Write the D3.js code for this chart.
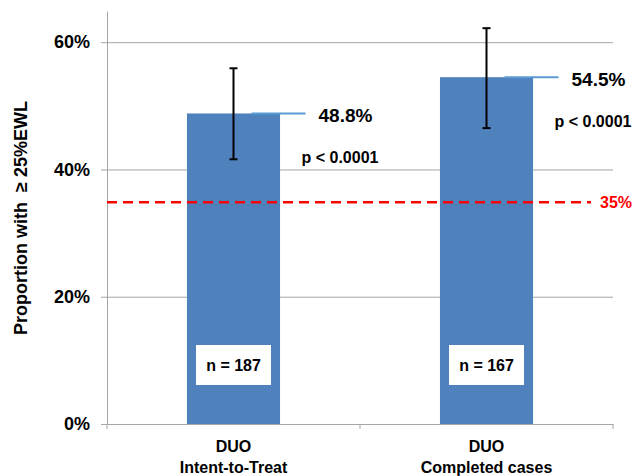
<!DOCTYPE html>
<html>
<head>
<meta charset="utf-8">
<script src="https://cdn.jsdelivr.net/npm/d3@7"></script>
<style>
  body { margin: 0; background: #fff; }
  svg text { font-family: "Liberation Sans", Arial, sans-serif; font-weight: bold; }
</style>
</head>
<body>
<div id="chart"></div>
<script>
// chart values
const groups = ['Intent-to-Treat', 'Completed cases'];
const groupTop = ['DUO', 'DUO'];
const values = [48.8, 54.5];
const errLow = [41.6, 46.5];
const errHigh = [55.9, 62.2];
const pLabels = ['p < 0.0001', 'p < 0.0001'];
const nLabels = ['n = 187', 'n = 167'];
const yTicks = [0, 20, 40, 60];
const threshold = 35;

const width = 641, height = 476;
const margin = { top: 11, right: 28, bottom: 52, left: 107 };

const svg = d3.select('#chart')
  .append('svg')
  .attr('width', width)
  .attr('height', height);

const xScale = d3.scaleBand()
  .domain(groups)
  .range([margin.left, width - margin.right])
  .paddingInner(0.632)
  .paddingOuter(0.316);

const yScale = d3.scaleLinear()
  .domain([0, 64.9])
  .range([height - margin.bottom, margin.top]);

const cx = d => xScale(d) + xScale.bandwidth() / 2;

// gridlines
svg.append('g')
  .attr('transform', `translate(${margin.left}, 0)`)
  .call(d3.axisLeft(yScale).tickValues(yTicks.slice(1)).tickFormat('').tickSize(-(width - margin.right - margin.left)))
  .call(g => g.select('.domain').remove())
  .call(g => g.selectAll('line').attr('stroke', '#a6a6a6'));

// y axis
svg.append('g')
  .attr('transform', `translate(${margin.left}, 0)`)
  .call(d3.axisLeft(yScale).tickValues(yTicks).tickFormat(d => d + '%').tickSize(6).tickSizeOuter(0))
  .call(g => g.select('.domain').attr('stroke', '#a6a6a6'))
  .call(g => g.selectAll('line').attr('stroke', '#a6a6a6'))
  .call(g => g.selectAll('text').attr('x', -17).attr('font-size', 18).attr('fill', '#000'));

// bars
svg.append('g').selectAll('rect')
  .data(groups)
  .join('rect')
  .attr('x', d => xScale(d))
  .attr('y', (d, i) => yScale(values[i]))
  .attr('width', xScale.bandwidth())
  .attr('height', (d, i) => yScale(0) - yScale(values[i]))
  .attr('fill', '#4f81bd');

// leader lines from bar top
svg.append('g').selectAll('line')
  .data(groups)
  .join('line')
  .attr('x1', d => cx(d) + 18)
  .attr('x2', d => cx(d) + 72)
  .attr('y1', (d, i) => yScale(values[i]))
  .attr('y2', (d, i) => yScale(values[i]))
  .attr('stroke', '#5b9bd5')
  .attr('stroke-width', 2);

// x axis
svg.append('g')
  .attr('transform', `translate(0, ${yScale(0)})`)
  .call(d3.axisBottom(xScale).tickSize(0).tickFormat(''))
  .call(g => g.select('.domain').attr('stroke', '#a6a6a6'));

const xTicks = [margin.left, (margin.left + width - margin.right) / 2, width - margin.right];
svg.append('g').selectAll('line')
  .data(xTicks)
  .join('line')
  .attr('x1', d => d).attr('x2', d => d)
  .attr('y1', yScale(0)).attr('y2', yScale(0) + 5)
  .attr('stroke', '#a6a6a6');

// threshold line
svg.append('line')
  .attr('x1', margin.left)
  .attr('x2', 591)
  .attr('y1', yScale(threshold) + 1)
  .attr('y2', yScale(threshold) + 1)
  .attr('stroke', '#ff0000')
  .attr('stroke-width', 2.5)
  .attr('stroke-dasharray', '10,6');

svg.append('text')
  .attr('x', 600)
  .attr('y', yScale(threshold) + 7)
  .attr('font-size', 16)
  .attr('fill', '#ff0000')
  .text(threshold + '%');

// error bars
const err = svg.append('g').attr('stroke', '#000').attr('stroke-width', 2);
groups.forEach((g, i) => {
  const x = cx(g);
  err.append('line').attr('x1', x).attr('x2', x)
    .attr('y1', yScale(errHigh[i])).attr('y2', yScale(errLow[i]));
  [errHigh[i], errLow[i]].forEach(v => {
    err.append('line').attr('x1', x - 4).attr('x2', x + 4)
      .attr('y1', yScale(v)).attr('y2', yScale(v));
  });
});

// value labels
svg.append('g').selectAll('text')
  .data(groups)
  .join('text')
  .attr('x', d => cx(d) + 85)
  .attr('y', (d, i) => yScale(values[i]) + 9)
  .attr('font-size', 19)
  .text((d, i) => values[i].toFixed(1) + '%');

svg.append('g').selectAll('text')
  .data(groups)
  .join('text')
  .attr('x', d => cx(d) + 68)
  .attr('y', (d, i) => yScale(values[i]) + 50)
  .attr('font-size', 16)
  .text((d, i) => pLabels[i]);

// n boxes
const nBox = svg.append('g').selectAll('g')
  .data(groups)
  .join('g')
  .attr('transform', d => `translate(${cx(d)}, ${yScale(0) - 59})`);

nBox.append('rect')
  .attr('x', -37.5).attr('y', -20)
  .attr('width', 75).attr('height', 40)
  .attr('fill', '#fff');

nBox.append('text')
  .attr('text-anchor', 'middle')
  .attr('dy', '0.35em')
  .attr('font-size', 16)
  .text((d, i) => nLabels[i]);

// category labels
const cat = svg.append('g').selectAll('g')
  .data(groups)
  .join('g')
  .attr('transform', d => `translate(${cx(d)}, 0)`);

cat.append('text')
  .attr('text-anchor', 'middle')
  .attr('y', 452)
  .attr('font-size', 16)
  .text((d, i) => groupTop[i]);

cat.append('text')
  .attr('text-anchor', 'middle')
  .attr('y', 473)
  .attr('font-size', 16)
  .text(d => d);

// y axis title
svg.append('text')
  .attr('transform', `translate(27, 218) rotate(-90)`)
  .attr('text-anchor', 'middle')
  .attr('font-size', 18)
  .style('white-space', 'pre')
  .text('Proportion with  \u2265 25%EWL');
</script>
</body>
</html>
